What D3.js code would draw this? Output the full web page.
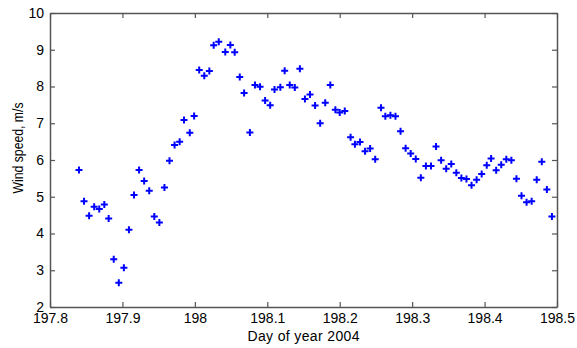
<!DOCTYPE html>
<html>
<head>
<meta charset="utf-8">
<script src="https://cdn.jsdelivr.net/npm/d3@7"></script>
<style>
  body { margin: 0; background: #fff; }
  text { font-family: "Liberation Sans", Arial, sans-serif; fill: #000; }
</style>
</head>
<body>
<div id="chart"></div>
<script>
// day of year (fractional)
const days = [
  197.840, 197.847, 197.854, 197.861, 197.868, 197.875, 197.881, 197.888, 197.895, 197.902,
  197.909, 197.916, 197.923, 197.930, 197.937, 197.944, 197.951, 197.958, 197.965, 197.972,
  197.979, 197.985, 197.993, 197.999, 198.006, 198.013, 198.020, 198.026, 198.033, 198.042,
  198.049, 198.055, 198.062, 198.068, 198.076, 198.083, 198.090, 198.097, 198.104, 198.110,
  198.118, 198.124, 198.131, 198.138, 198.145, 198.152, 198.159, 198.166, 198.173, 198.180,
  198.187, 198.194, 198.200, 198.207, 198.215, 198.221, 198.228, 198.235, 198.242, 198.249,
  198.257, 198.263, 198.270, 198.277, 198.284, 198.291, 198.298, 198.305, 198.312, 198.319,
  198.326, 198.333, 198.340, 198.347, 198.354, 198.361, 198.368, 198.375, 198.382, 198.389,
  198.396, 198.403, 198.409, 198.416, 198.423, 198.430, 198.437, 198.444, 198.451, 198.458,
  198.465, 198.472, 198.479, 198.486, 198.493
];
// wind speed, m/s
const windSpeed = [
  5.73, 4.88, 4.48, 4.73, 4.67, 4.79, 4.41, 3.30, 2.66, 3.07,
  4.10, 5.05, 5.73, 5.43, 5.16, 4.46, 4.30, 5.25, 5.98, 6.41,
  6.50, 7.09, 6.74, 7.20, 8.45, 8.29, 8.42, 9.12, 9.22, 8.94,
  9.13, 8.93, 8.26, 7.82, 6.75, 8.04, 7.99, 7.62, 7.49, 7.92,
  7.98, 8.43, 8.04, 7.97, 8.48, 7.66, 7.78, 7.48, 7.00, 7.56,
  8.04, 7.37, 7.29, 7.33, 6.62, 6.43, 6.49, 6.24, 6.31, 6.02,
  7.42, 7.19, 7.22, 7.19, 6.78, 6.32, 6.18, 6.03, 5.52, 5.84,
  5.84, 6.37, 5.99, 5.76, 5.89, 5.65, 5.51, 5.48, 5.31, 5.46,
  5.62, 5.86, 6.04, 5.72, 5.87, 6.02, 5.99, 5.49, 5.03, 4.85,
  4.88, 5.46, 5.95, 5.20, 4.46
];
const xTicks = [197.8, 197.9, 198, 198.1, 198.2, 198.3, 198.4, 198.5];
const yTicks = [2, 3, 4, 5, 6, 7, 8, 9, 10];

const width = 577, height = 348;
const margin = { top: 13, right: 20, bottom: 41, left: 50 };
const axisColor = "#555";

const svg = d3.select("#chart").append("svg")
  .attr("width", width)
  .attr("height", height);

const x = d3.scaleLinear().domain([197.8, 198.5]).range([margin.left, width - margin.right]);
const y = d3.scaleLinear().domain([2, 10]).range([height - margin.bottom, margin.top]);

// box ticks on all four sides, pointing inward
const fmt = d => String(+d.toFixed(1));
const axBottom = svg.append("g")
  .attr("transform", `translate(0,${y(2)})`)
  .call(d3.axisBottom(x).tickValues(xTicks).tickFormat(fmt).tickSizeInner(-5).tickSizeOuter(0).tickPadding(6));
const axTop = svg.append("g")
  .attr("transform", `translate(0,${y(10)})`)
  .call(d3.axisTop(x).tickValues(xTicks).tickFormat("").tickSizeInner(-5).tickSizeOuter(0));
const axLeft = svg.append("g")
  .attr("transform", `translate(${x(197.8)},0)`)
  .call(d3.axisLeft(y).tickValues(yTicks).tickFormat(fmt).tickSizeInner(-5).tickSizeOuter(0).tickPadding(6));
const axRight = svg.append("g")
  .attr("transform", `translate(${x(198.5)},0)`)
  .call(d3.axisRight(y).tickValues(yTicks).tickFormat("").tickSizeInner(-5).tickSizeOuter(0));

[axBottom, axTop, axLeft, axRight].forEach(g => {
  g.selectAll("path.domain").attr("stroke", axisColor).attr("stroke-width", 1.5);
  g.selectAll(".tick line").attr("stroke", axisColor).attr("stroke-width", 1.2);
  g.selectAll("text").attr("font-size", 14).attr("fill", "#000")
    .style("font-family", "'Liberation Sans', Arial, sans-serif");
});

// plus markers
const arm = 3.5;
const pts = days.map((d, i) => [d, windSpeed[i]]);
svg.append("g").selectAll("path.pt")
  .data(pts)
  .join("path")
  .attr("class", "pt")
  .attr("d", d => {
    const cx = x(d[0]), cy = y(d[1]);
    return `M${cx - arm},${cy}H${cx + arm}M${cx},${cy - arm}V${cy + arm}`;
  })
  .attr("stroke", "#0000ff")
  .attr("stroke-width", 2)
  .attr("fill", "none");

// axis titles
svg.append("text")
  .attr("x", (x(197.8) + x(198.5)) / 2)
  .attr("y", 341)
  .attr("text-anchor", "middle")
  .attr("font-size", 14)
  .attr("textLength", 112)
  .attr("lengthAdjust", "spacing")
  .text("Day of year 2004");

svg.append("text")
  .attr("transform", "translate(23,148) rotate(-90)")
  .attr("text-anchor", "middle")
  .attr("font-size", 14)
  .attr("textLength", 91)
  .attr("lengthAdjust", "spacingAndGlyphs")
  .text("Wind speed, m/s");
</script>
</body>
</html>
